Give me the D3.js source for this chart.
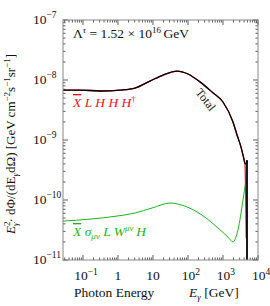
<!DOCTYPE html>
<html>
<head>
<meta charset="utf-8">
<script src="https://cdn.jsdelivr.net/npm/d3@7"></script>
<style>
  body { margin: 0; background: #fff; }
</style>
</head>
<body>
<svg id="chart" width="270" height="306" font-family="'Liberation Serif', 'Times New Roman', Times, serif"></svg>
<script>
// photon energy (GeV) and E^2 dPhi/dE dOmega
const totalEnergy = [0.027, 0.082, 0.31, 1.14, 3.07, 8.2, 19.4, 48.6, 100, 220, 486, 1000, 1930, 2520, 3270, 3730, 4260, 4600, 4850];
const totalFlux   = [6.8e-9, 6.8e-9, 6.56e-9, 6.8e-9, 7.35e-9, 9.6e-9, 1.21e-8, 1.41e-8, 1.26e-8, 9.3e-9, 6.3e-9, 4.3e-9, 2.0e-9, 1.21e-9, 7.6e-10, 5.6e-10, 4.1e-10, 4.0e-10, 4.6e-10];
const cutoffEnergy = 4850;

const redEnergy = [0.027, 0.082, 0.31, 1.14, 3.07, 8.2, 19.4, 48.6, 100, 220, 486, 1000, 1930, 2520, 3270, 3730, 4260, 4470, 4620];
const redFlux   = [6.8e-9, 6.8e-9, 6.56e-9, 6.8e-9, 7.35e-9, 9.6e-9, 1.21e-8, 1.41e-8, 1.26e-8, 9.3e-9, 6.3e-9, 4.3e-9, 2.0e-9, 1.21e-9, 7.6e-10, 5.6e-10, 3.9e-10, 1.0e-10, 2.3e-11];

const greenEnergy = [0.027, 0.159, 0.94, 3.07, 9.4, 30.7, 82, 252, 722, 1395, 1930, 2690, 3730, 4540];
const greenFlux   = [4.46e-11, 4.8e-11, 5.4e-11, 6.07e-11, 7.35e-11, 8.9e-11, 7.9e-11, 5.6e-11, 3.4e-11, 2.4e-11, 2.0e-11, 3.2e-11, 1.0e-10, 2.15e-10];

const xTickExp = [-1, 0, 1, 2, 3, 4];
const yTickExp = [-11, -10, -9, -8, -7];

const margin = { top: 20, right: 12, bottom: 46, left: 63 };
const width = 270 - margin.left - margin.right;
const height = 306 - margin.top - margin.bottom;

const svg = d3.select("#chart");
const g = svg.append("g").attr("transform", `translate(${margin.left},${margin.top})`);

const x = d3.scaleLog().domain([Math.pow(10, -1.57), 1e4]).range([0, width]);
const y = d3.scaleLog().domain([1e-11, 1e-7]).range([height, 0]);

g.append("defs").append("clipPath").attr("id", "clip")
  .append("rect").attr("width", width).attr("height", height);

const line = d3.line()
  .x(d => x(d[0])).y(d => y(d[1]))
  .curve(d3.curveMonotoneX);

const plot = g.append("g").attr("clip-path", "url(#clip)");

plot.append("path")
  .datum(greenEnergy.map((e, i) => [e, greenFlux[i]]))
  .attr("fill", "none").attr("stroke", "#1db31d").attr("stroke-width", 1)
  .attr("d", line);

plot.append("path")
  .datum(redEnergy.map((e, i) => [e, redFlux[i]]))
  .attr("fill", "none").attr("stroke", "#e8141c").attr("stroke-width", 1.3)
  .attr("d", line);

plot.append("path")
  .datum(totalEnergy.map((e, i) => [e, totalFlux[i]]))
  .attr("fill", "none").attr("stroke", "#000").attr("stroke-width", 1.3)
  .attr("d", line);

// sharp cutoff of the total
plot.append("line")
  .attr("x1", x(cutoffEnergy)).attr("x2", x(cutoffEnergy))
  .attr("y1", y(totalFlux[totalFlux.length - 1])).attr("y2", height)
  .attr("stroke", "#000").attr("stroke-width", 1.8);

// ticks (inward, on all sides)
const minorX = [], minorY = [];
for (let e = -2; e <= 4; e++) for (let m = 1; m < 10; m++) {
  const v = m * Math.pow(10, e);
  if (v >= x.domain()[0] && v <= x.domain()[1]) minorX.push({ v, major: m === 1 });
}
for (let e = -11; e <= -7; e++) for (let m = 1; m < 10; m++) {
  const v = m * Math.pow(10, e);
  if (v >= 1e-11 && v <= 1e-7 * 1.0001) minorY.push({ v, major: m === 1 });
}
const ticks = g.append("g").attr("stroke", "#333").attr("stroke-width", 0.8);
minorX.forEach(t => {
  const px = x(t.v), len = t.major ? 5 : 2.5;
  ticks.append("line").attr("x1", px).attr("x2", px).attr("y1", height).attr("y2", height - len);
  ticks.append("line").attr("x1", px).attr("x2", px).attr("y1", 0).attr("y2", len);
});
minorY.forEach(t => {
  const py = y(t.v), len = t.major ? 5 : 2.5;
  ticks.append("line").attr("x1", 0).attr("x2", len).attr("y1", py).attr("y2", py);
  ticks.append("line").attr("x1", width).attr("x2", width - len).attr("y1", py).attr("y2", py);
});

g.append("rect").attr("width", width).attr("height", height)
  .attr("fill", "none").attr("stroke", "#888").attr("stroke-width", 1);

// tick labels
const xl = g.append("g").attr("font-size", 13.5).attr("fill", "#111");
xTickExp.forEach(e => {
  const t = xl.append("text").attr("y", height + 20).attr("text-anchor", "middle");
  if (e === 0) { t.attr("x", x(1)).text("1"); return; }
  if (e === 1) { t.attr("x", x(10)).text("10"); return; }
  t.attr("x", x(Math.pow(10, e)) + 3);
  t.append("tspan").text("10");
  t.append("tspan").attr("font-size", 9.5).attr("dy", -5).text(e < 0 ? "\u2212" + (-e) : e);
});
const yl = g.append("g").attr("font-size", 13.5).attr("fill", "#111");
yTickExp.forEach(e => {
  const t = yl.append("text").attr("x", -30).attr("y", y(Math.pow(10, e)) + 4).attr("text-anchor", "start");
  t.append("tspan").text("10");
  t.append("tspan").attr("font-size", 9.5).attr("dy", -6).text("\u2212" + (-e));
});

// annotations
const lam = g.append("text").attr("x", 10).attr("y", 18).attr("font-size", 13.5).attr("fill", "#111");
lam.append("tspan").text("\u039B");
lam.append("tspan").attr("font-size", 9).attr("dy", -5).attr("font-style", "italic").text("\u03C4");
lam.append("tspan").attr("dy", 5).text(" = 1.52 \u00D7 10");
lam.append("tspan").attr("font-size", 9).attr("dy", -5).text("16");
lam.append("tspan").attr("dy", 5).text("\u2009GeV");

const red = g.append("text").attr("x", 10).attr("y", 87).attr("font-size", 13.5)
  .attr("fill", "#e8141c").attr("font-style", "italic");
red.append("tspan").attr("text-decoration", "overline").text("X");
red.append("tspan").text(" L H H H");
red.append("tspan").attr("font-size", 9).attr("dy", -5).attr("font-style", "normal").text("\u2020");

const grn = g.append("text").attr("x", 10).attr("y", 216).attr("font-size", 13.5)
  .attr("fill", "#1db31d").attr("font-style", "italic");
grn.append("tspan").attr("text-decoration", "overline").text("X");
grn.append("tspan").text(" \u03C3");
grn.append("tspan").attr("font-size", 9).attr("dy", 3).text("\u03BC\u03BD");
grn.append("tspan").attr("dy", -3).text(" L W");
grn.append("tspan").attr("font-size", 9).attr("dy", -5).text("\u03BC\u03BD");
grn.append("tspan").attr("dy", 5).text("\u2009H");

g.append("text").attr("font-size", 12).attr("fill", "#111")
  .attr("text-anchor", "middle").attr("dy", 4)
  .attr("transform", `translate(${x(320)},${y(4.7e-9)}) rotate(52)`)
  .text("Total");

// axis titles
const xt = svg.append("text").attr("y", 297).attr("font-size", 13.5).attr("fill", "#111");
xt.append("tspan").attr("x", 74).text("Photon Energy");
xt.append("tspan").attr("x", 189).attr("font-style", "italic").text("E");
xt.append("tspan").attr("font-size", 9).attr("dy", 3).attr("font-style", "italic").text("\u03B3");
xt.append("tspan").attr("dy", -3).text(" [GeV]");

const yt = svg.append("text").attr("font-size", 13).attr("fill", "#111")
  .attr("text-anchor", "middle")
  .attr("transform", `translate(15,${margin.top + height / 2 + 4}) rotate(-90)`);
yt.append("tspan").attr("font-style", "italic").text("E");
yt.append("tspan").attr("font-size", 9).attr("dy", -5).text("2");
yt.append("tspan").attr("font-size", 9).attr("dx", -4.5).attr("dy", 8).attr("font-style", "italic").text("\u03B3");
yt.append("tspan").attr("dy", -3).text("\u00B7 d\u03A6/(dE");
yt.append("tspan").attr("font-size", 9).attr("dy", 3).attr("font-style", "italic").text("\u03B3");
yt.append("tspan").attr("dy", -3).text("d\u03A9)  [GeV cm");
yt.append("tspan").attr("font-size", 9).attr("dy", -5).text("\u22122");
yt.append("tspan").attr("dy", 5).text("s");
yt.append("tspan").attr("font-size", 9).attr("dy", -5).text("\u22121");
yt.append("tspan").attr("dy", 5).text("sr");
yt.append("tspan").attr("font-size", 9).attr("dy", -5).text("\u22121");
yt.append("tspan").attr("dy", 5).text("]");
</script>
</body>
</html>
